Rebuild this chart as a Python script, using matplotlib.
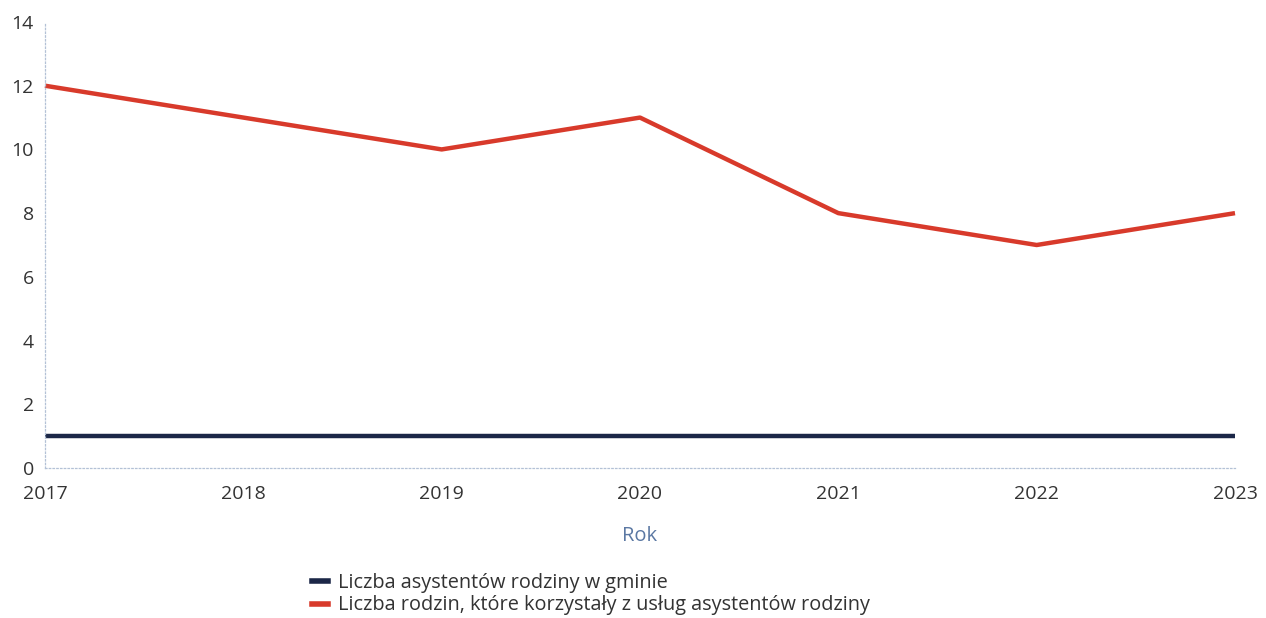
import matplotlib
matplotlib.use("Agg")
import matplotlib.pyplot as plt
from matplotlib.lines import Line2D

plt.rcParams["font.family"] = ["Open Sans", "DejaVu Sans"]

years = [2017, 2018, 2019, 2020, 2021, 2022, 2023]
asystenci = [1, 1, 1, 1, 1, 1, 1]
rodziny = [12, 11, 10, 11, 8, 7, 8]
labels = ["Liczba asystentów rodziny w gminie",
          "Liczba rodzin, które korzystały z usług asystentów rodziny"]
yticks = [0, 2, 4, 6, 8, 10, 12, 14]

c_dark = "#1b2747"
c_red = "#d83a2b"
txt = "#333333"

fig = plt.figure(figsize=(12.66, 6.18), dpi=100)
ax = fig.add_axes([45/1266, 1 - 468/618, (1235-45)/1266, (468-22)/618])

ax.plot(years, asystenci, color=c_dark, lw=3.2, solid_capstyle="butt", clip_on=False)
ax.plot(years, rodziny, color=c_red, lw=3.2, solid_capstyle="butt", clip_on=False)

ax.set_xlim(2017, 2023)
ax.set_ylim(0, 14)
ax.set_yticks(yticks)
ax.set_xticks(years)
ax.tick_params(axis="both", length=0, labelsize=14, labelcolor=txt)
ax.tick_params(axis="y", pad=8)
ax.tick_params(axis="x", pad=12)

for s in ["top", "right"]:
    ax.spines[s].set_visible(False)
for s in ["left", "bottom"]:
    ax.spines[s].set_color("#b3c1d6")
    ax.spines[s].set_linestyle((0, (1.2, 1.8)))
    ax.spines[s].set_linewidth(0.9)

ax.set_xlabel("Rok", color="#5b78a3", fontsize=14.5, labelpad=17)

handles = [Line2D([], [], color=c_dark, lw=4), Line2D([], [], color=c_red, lw=4)]
fig.legend(handles, labels, loc="center left", bbox_to_anchor=(312/1266, 1 - 594/618),
           frameon=False, fontsize=14.3, handlelength=0.8, handletextpad=0.5,
           labelspacing=0.15, labelcolor=txt, borderaxespad=0, borderpad=0)

fig.savefig("out.png", dpi=100)
